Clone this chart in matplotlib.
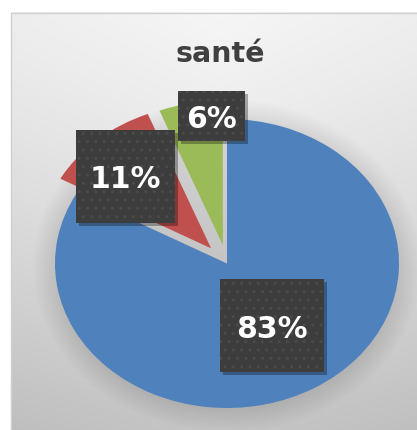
import matplotlib
matplotlib.use('Agg')
import matplotlib.pyplot as plt
import numpy as np
from matplotlib.patches import Rectangle, Ellipse

title = "santé"
values = [83, 11, 6]
labels = ["83%", "11%", "6%"]
colors = ["#4F81BD", "#C0504D", "#9BBB59"]
explode = [0, 0.14, 0.13]

plt.rcParams['font.family'] = ['DejaVu Sans']

W, H = 417, 430
fig = plt.figure(figsize=(W / 100, H / 100), dpi=100)

# background with gradient and frame
bg = fig.add_axes([0, 0, 1, 1])
bg.set_axis_off()
yy, xx = np.mgrid[0:H, 0:W]
v = 246 - 48 * (yy / H) ** 1.3 - 8 * np.abs(xx - 220) / 220
v[(xx < 11) | (yy < 12)] = 255
img = np.dstack([v, v, v]) / 255
bg.imshow(img, extent=[0, W, H, 0], aspect='auto', interpolation='bilinear')
bg.set_xlim(0, W)
bg.set_ylim(H, 0)
bg.plot([11.5, 11.5, W], [H, 12.5, 12.5], color='#d0d0d0', lw=1)
# very soft shadow halo around the pie
for k in range(12):
    bg.add_patch(Ellipse((227, 266), 2 * 172 + 4 * k, 2 * 144.5 + 4 * k,
                         facecolor='black', edgecolor='none', alpha=0.008))

# pie (elliptical, as in reference)
ax = fig.add_axes([55 / W, 22 / H, 344 / W, 289 / H])
wedges, _ = ax.pie(values, colors=colors, explode=explode, startangle=90,
                   counterclock=False, radius=1)
ax.set_aspect('auto')
ax.set_xlim(-1, 1)
ax.set_ylim(-1, 1)
for w in wedges:
    w.set_clip_on(False)
ax.set_axis_off()

# overlay for labels and title
ov = fig.add_axes([0, 0, 1, 1])
ov.set_xlim(0, W)
ov.set_ylim(H, 0)
ov.set_axis_off()
ov.patch.set_alpha(0)

ov.text(220, 62, title, ha='center', va='baseline', fontsize=20.5,
        fontweight='bold', color='#404040')

boxes = [(220, 279, 104, 93), (76, 130, 99, 93), (178, 91, 67, 50)]
text_pos = [(272, 338), (125, 188), (211.5, 128)]
for (x0, y0, bw, bh), (tx, ty), lab in zip(boxes, text_pos, labels):
    ov.add_patch(Rectangle((x0 + 3, y0 + 3), bw, bh, facecolor='black',
                           alpha=0.3, edgecolor='none'))
    ov.add_patch(Rectangle((x0, y0), bw, bh, facecolor='#3d3d3d',
                           edgecolor='none'))
    ov.add_patch(Rectangle((x0, y0), bw, bh, facecolor='none',
                           edgecolor='#4b4b4b', hatch='..', lw=0))
    ov.text(tx, ty, lab, ha='center', va='baseline', fontsize=21.5,
            fontweight='bold', color='white')

fig.savefig('out.png', dpi=100)
